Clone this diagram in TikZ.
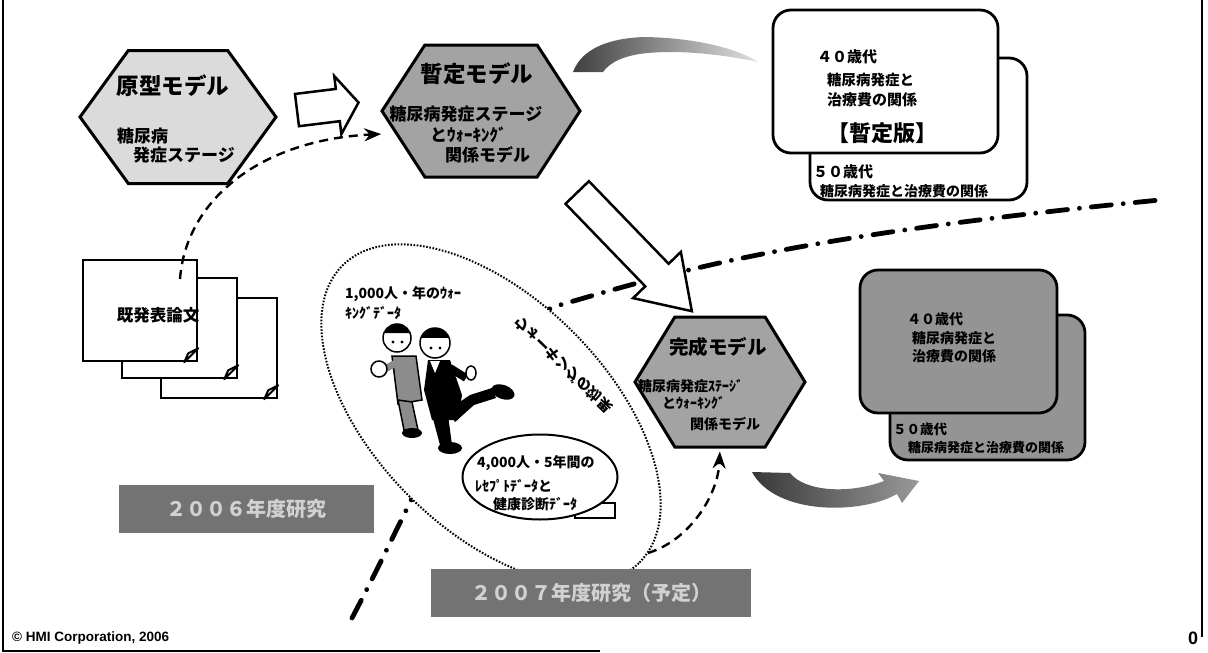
\documentclass[tikz,border=0pt]{standalone}
\usepackage{fontspec}
\setmainfont{Noto Sans CJK JP}
\newfontfamily\latinfont{Liberation Sans}
\usepackage{tikz}
\usetikzlibrary{shapes,arrows,arrows.meta,calc}
\newcommand{\sz}[1]{\fontsize{#1}{#1}\selectfont}
\tikzstyle{hexa} = [draw, line width=3pt, shape=signal, signal to=west and east, inner sep=0pt]
\tikzstyle{card} = [draw, line width=2.8pt, rounded corners=18pt, inner sep=0pt]
\tikzstyle{sheet} = [draw, line width=2.5pt, fill=white, chamfered rectangle, chamfered rectangle corners=south east,
    chamfered rectangle xsep=14pt, chamfered rectangle ysep=14pt, inner sep=0pt]
\tikzstyle{blockarrow} = [draw, line width=2.5pt, fill=white, single arrow, inner xsep=0pt, inner ysep=15pt]
\tikzstyle{arrow} = [line width=2.4pt, dash pattern=on 9pt off 6pt, -{Stealth[length=17pt,width=13pt]}]
\tikzstyle{txt} = [inner sep=0pt, font=\bfseries]
\tikzstyle{yearbox} = [fill=black!55, text=black!18, inner sep=0pt, font=\bfseries\sz{20pt}]

\begin{document}
\begin{tikzpicture}[x=1pt, y=-1pt]
\useasboundingbox (0,0) rectangle (1208,653);

% page frame
\draw[line width=2pt] (1202,0) -- (1202,637);
\draw[line width=2pt] (3,0) -- (3,651) -- (600,651);

% border between the two years
\draw[line width=4.8pt, line cap=round, dash pattern=on 20pt off 12pt on 0.01pt off 12pt]
    (352,618) .. controls (430,470) and (480,330) .. (560,305)
    .. controls (680,270) and (800,235) .. (1160,200);

% hexagons
\node (hex1) [hexa, fill=black!14, minimum width=196pt, minimum height=133pt, signal pointer angle=108] at (178,117) {};
\node (hex2) [hexa, fill=black!36, minimum width=198pt, minimum height=132pt, signal pointer angle=114] at (481,111) {};
\node (hex3) [hexa, fill=black!36, minimum width=170pt, minimum height=130pt, signal pointer angle=117] at (720,382) {};

\node[txt, font=\bfseries\sz{22.5pt}] at (173,86) {原型モデル};
\node[txt, anchor=west, font=\bfseries\sz{17pt}] at (117,136) {糖尿病};
\node[txt, anchor=west, font=\bfseries\sz{17pt}] at (133,155) {発症ステージ};

\node[txt, font=\bfseries\sz{22.5pt}] at (477,74) {暫定モデル};
\node[txt, font=\bfseries\sz{17pt}] at (466,114) {糖尿病発症ステージ};
\node[txt, anchor=west, font=\bfseries\sz{17pt}] at (430,135) {とｳｫｰｷﾝｸﾞ};
\node[txt, anchor=west, font=\bfseries\sz{17pt}] at (445,155) {関係モデル};

\node[txt, font=\bfseries\sz{19.5pt}] at (718,347) {完成モデル};
\node[txt, anchor=west, font=\bfseries\sz{14pt}] at (638,386) {糖尿病発症ｽﾃｰｼﾞ};
\node[txt, anchor=west, font=\bfseries\sz{14pt}] at (662,403) {とｳｫｰｷﾝｸﾞ};
\node[txt, anchor=west, font=\bfseries\sz{14pt}] at (690,424) {関係モデル};

% block arrows
\node (step1) [blockarrow, minimum height=62pt, minimum width=56pt, single arrow head extend=13pt,
    single arrow tip angle=109, rotate=7] at (322,107) {};
\node (step2) [blockarrow, minimum height=165pt, minimum width=64pt, single arrow head extend=17pt,
    single arrow tip angle=67, rotate=-46] at (626,243) {};

% provisional result cards
\node (card50) [card, fill=white, minimum width=217pt, minimum height=142pt] at (918.5,129) {};
\node (card40) [card, fill=white, minimum width=225pt, minimum height=143pt] at (885.5,81.5) {};
\node[txt, anchor=west, font=\bfseries\sz{15pt}] at (817,57) {４０歳代};
\node[txt, anchor=west, font=\bfseries\sz{14.5pt}] at (827,80) {糖尿病発症と};
\node[txt, anchor=west, font=\bfseries\sz{15pt}] at (827,100) {治療費の関係};
\node[txt, font=\bfseries\sz{22pt}] at (882,133) {【暫定版】};
\node[txt, anchor=west, font=\bfseries\sz{15pt}] at (813,172) {５０歳代};
\node[txt, anchor=west, font=\bfseries\sz{14pt}] at (820,191) {糖尿病発症と治療費の関係};

% final result cards
\node (fin50) [card, fill=black!42, minimum width=195pt, minimum height=145pt] at (987.5,387.5) {};
\node (fin40) [card, fill=black!42, minimum width=197pt, minimum height=143pt] at (958.5,341.5) {};
\node[txt, anchor=west, font=\bfseries\sz{14pt}] at (907,319) {４０歳代};
\node[txt, anchor=west, font=\bfseries\sz{14pt}] at (912,338) {糖尿病発症と};
\node[txt, anchor=west, font=\bfseries\sz{14pt}] at (912,356) {治療費の関係};
\node[txt, anchor=west, font=\bfseries\sz{13.5pt}] at (893,429) {５０歳代};
\node[txt, anchor=west, font=\bfseries\sz{13pt}] at (908,448) {糖尿病発症と治療費の関係};

% swooshes
\shade[left color=black!75, right color=black!12]
    (573,72) .. controls (582,48) and (610,38) .. (645,37) .. controls (700,38) and (740,50) .. (758,62)
    .. controls (720,54) and (680,50) .. (648,53) .. controls (625,55) and (610,62) .. (603,72) -- cycle;
\shade[left color=black!78, right color=black!40]
    (752,472) -- (790,473) .. controls (805,492) and (850,494) .. (884,481) -- (878,473) -- (919,481)
    -- (902,503) -- (897,494) .. controls (860,515) and (775,515) .. cycle;

% published papers
\node (p3) [sheet, minimum width=116pt, minimum height=100pt] at (219,348) {};
\node (p2) [sheet, minimum width=115pt, minimum height=100pt] at (179.5,328) {};
\node (p1) [sheet, minimum width=114pt, minimum height=101pt] at (140,310.5) {};
\foreach \p in {p1,p2,p3}
    \draw[line width=2pt, line join=round, fill=white] ($(\p.south -| \p.east)+(-14,0)$)
        -- ($(\p.south -| \p.east)+(0,-14)$) -- ($(\p.south -| \p.east)+(-10,-9)$) -- cycle;
\node[txt, font=\bfseries\sz{16.5pt}] at (158,315) {既発表論文};

\coordinate (lit) at (180,279);
\draw[arrow] (lit) .. controls (186,200) and (260,140) .. ($(hex2.west)+(1,23)$);

% walking study
\node (study) [ellipse, draw, line width=2pt, dash pattern=on 1.6pt off 1.6pt, fill=white,
    minimum width=420pt, minimum height=232pt, rotate=-45] at (491,414) {};
\node[txt, anchor=west, font=\bfseries\sz{14pt}] at (345,294) {1,000人・年のｳｫｰ};
\node[txt, anchor=west, font=\bfseries\sz{14pt}] at (345,313) {ｷﾝｸﾞﾃﾞｰﾀ};
\node (effect) [txt, font=\bfseries\sz{14.5pt}, rotate=-44, yscale=-1] at (563,365) {ウォーキングの効果};

% runners
\draw[line width=1.5pt, fill=black!45] (392,356) -- (416,356) -- (422,400) -- (398,404) -- cycle;
\draw[line width=1.5pt, fill=black!45] (398,400) -- (412,402) -- (418,430) -- (404,430) -- cycle;
\fill (412,433) ellipse (10pt and 5pt);
\draw[line width=7pt, black!45] (396,363) -- (383,370);
\draw[line width=1.5pt, fill=white] (379,369) circle (8pt);
\draw[line width=1.5pt, fill=white] (397,338) circle (14pt);
\fill (383.8,333.2) arc[start angle=200, end angle=340, radius=14] -- cycle;
\fill (393,342) circle (1.6pt) (402,342) circle (1.6pt);
\fill (448,410) -- (470,395) -- (492,388) -- (496,398) -- (474,405) -- (455,422) -- cycle;
\fill[rotate around={-20:(503,392)}] (503,392) ellipse (12pt and 7pt);
\fill (428,360) -- (450,360) -- (462,395) -- (458,420) -- (432,420) -- (424,390) -- cycle;
\fill (432,415) -- (448,415) -- (452,445) -- (440,445) -- cycle;
\fill (450,448) ellipse (12pt and 6pt);
\draw[line width=8pt] (450,368) -- (466,378);
\draw[line width=1.5pt, fill=white] (471,373) ellipse (5pt and 7pt);
\fill[white] (430,361) -- (440,361) -- (435,373) -- cycle;
\draw[line width=1.5pt, fill=white] (435,343) circle (15pt);
\fill (420.9,337.9) arc[start angle=200, end angle=340, radius=15] -- cycle;
\fill (431,348) circle (1.6pt) (440,348) circle (1.6pt);

% claims data bubble
\draw[line width=2pt, fill=white] (575,503) rectangle (615,518);
\node (claims) [ellipse, draw, line width=2pt, fill=white, minimum width=155pt, minimum height=85pt] at (540,477) {};
\node[txt, anchor=west, font=\bfseries\sz{14pt}] at (477,463) {4,000人・5年間の};
\node[txt, anchor=west, font=\bfseries\sz{14pt}] at (475,486) {ﾚｾﾌﾟﾄﾃﾞｰﾀと};
\node[txt, anchor=west, font=\bfseries\sz{14pt}] at (493,504) {健康診断ﾃﾞｰﾀ};

\coordinate (ellend) at (648,553);
\draw[arrow, shorten >=3pt] (ellend) .. controls (690,540) and (718,495) .. (hex3.south);

% research years
\node (y2006) [yearbox, minimum width=255pt, minimum height=48pt] at (246.5,509) {２００６年度研究};
\node (y2007) [yearbox, minimum width=320pt, minimum height=48pt] at (591,593) {２００７年度研究（予定）};

\node[anchor=west, inner sep=0pt, font=\latinfont\bfseries\sz{13.5pt}] at (12,638) {© HMI Corporation, 2006};
\node[inner sep=0pt, font=\latinfont\bfseries\sz{18pt}] at (1193,638) {0};
\end{tikzpicture}
\end{document}
